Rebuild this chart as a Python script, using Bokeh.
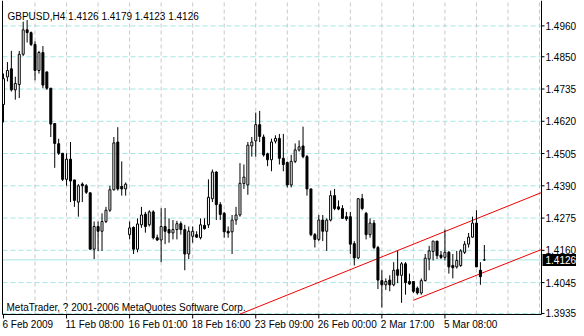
import numpy as np
from bokeh.plotting import figure
from bokeh.models import ColumnDataSource, Range1d
from bokeh.embed import file_html
from bokeh.resources import INLINE
from bokeh.core.properties import value

symbol = "GBPUSD,H4"
header_values = ["1.4126", "1.4179", "1.4123", "1.4126"]
copyright_text = "MetaTrader, ? 2001-2006 MetaQuotes Software Corp."

opens = [1.4680, 1.4778, 1.4807, 1.4732, 1.4751, 1.4859, 1.4946, 1.4936, 1.4894, 1.4801,
         1.4865, 1.4796, 1.4738, 1.4612, 1.4540, 1.4506, 1.4413, 1.4485, 1.4411, 1.4332,
         1.4396, 1.4390, 1.4365, 1.4164, 1.4245, 1.4228, 1.4263, 1.4303, 1.4376, 1.4546,
         1.4388, 1.4379, 1.4216, 1.4242, 1.4164, 1.4251, 1.4289, 1.4251, 1.4297, 1.4205,
         1.4197, 1.4245, 1.4234, 1.4222, 1.4234, 1.4255, 1.4234, 1.4147, 1.4210, 1.4216,
         1.4205, 1.4249, 1.4251, 1.4344, 1.4439, 1.4323, 1.4292, 1.4228, 1.4226, 1.4268,
         1.4286, 1.4398, 1.4393, 1.4532, 1.4550, 1.4608, 1.4564, 1.4504, 1.4483, 1.4549,
         1.4559, 1.4488, 1.4473, 1.4393, 1.4477, 1.4518, 1.4532, 1.4494, 1.4379, 1.4216,
         1.4199, 1.4268, 1.4228, 1.4268, 1.4355, 1.4315, 1.4309, 1.4280, 1.4280, 1.4184,
         1.4133, 1.4344, 1.4292, 1.4216, 1.4257, 1.4170, 1.4052, 1.4037, 1.4054, 1.4037,
         1.4091, 1.4071, 1.4112, 1.4049, 1.4049, 1.4025, 1.4008, 1.4052, 1.4129, 1.4156,
         1.4193, 1.4143, 1.4135, 1.4153, 1.4106, 1.4101, 1.4106, 1.4153, 1.4182, 1.4207,
         1.4257, 1.4089, 1.4126]
highs = [1.4790, 1.4831, 1.4871, 1.4779, 1.4871, 1.4975, 1.4981, 1.4940, 1.4905, 1.4871,
         1.4888, 1.4797, 1.4738, 1.4612, 1.4558, 1.4506, 1.4506, 1.4546, 1.4411, 1.4396,
         1.4402, 1.4396, 1.4366, 1.4263, 1.4263, 1.4292, 1.4315, 1.4390, 1.4564, 1.4599,
         1.4477, 1.4402, 1.4263, 1.4245, 1.4274, 1.4315, 1.4297, 1.4303, 1.4303, 1.4216,
         1.4310, 1.4311, 1.4274, 1.4268, 1.4265, 1.4263, 1.4251, 1.4245, 1.4245, 1.4228,
         1.4274, 1.4274, 1.4413, 1.4448, 1.4442, 1.4332, 1.4297, 1.4245, 1.4286, 1.4315,
         1.4471, 1.4466, 1.4546, 1.4564, 1.4651, 1.4657, 1.4573, 1.4508, 1.4558, 1.4570,
         1.4575, 1.4575, 1.4477, 1.4500, 1.4541, 1.4552, 1.4601, 1.4500, 1.4379, 1.4222,
         1.4286, 1.4286, 1.4274, 1.4373, 1.4379, 1.4338, 1.4321, 1.4297, 1.4297, 1.4193,
         1.4346, 1.4361, 1.4297, 1.4274, 1.4268, 1.4176, 1.4089, 1.4060, 1.4071, 1.4118,
         1.4158, 1.4118, 1.4118, 1.4077, 1.4049, 1.4031, 1.4060, 1.4147, 1.4176, 1.4193,
         1.4193, 1.4158, 1.4234, 1.4158, 1.4147, 1.4158, 1.4164, 1.4193, 1.4222, 1.4280,
         1.4303, 1.4118, 1.4179]
lows = [1.4616, 1.4762, 1.4726, 1.4697, 1.4703, 1.4853, 1.4901, 1.4888, 1.4766, 1.4790,
        1.4738, 1.4732, 1.4564, 1.4454, 1.4500, 1.4407, 1.4390, 1.4332, 1.4315, 1.4280,
        1.4332, 1.4361, 1.4164, 1.4129, 1.4157, 1.4158, 1.4257, 1.4297, 1.4373, 1.4373,
        1.4355, 1.4355, 1.4199, 1.4147, 1.4153, 1.4240, 1.4223, 1.4245, 1.4199, 1.4193,
        1.4118, 1.4182, 1.4187, 1.4199, 1.4199, 1.4216, 1.4089, 1.4129, 1.4187, 1.4205,
        1.4199, 1.4234, 1.4240, 1.4332, 1.4268, 1.4268, 1.4205, 1.4205, 1.4147, 1.4251,
        1.4280, 1.4379, 1.4358, 1.4494, 1.4494, 1.4546, 1.4494, 1.4460, 1.4442, 1.4541,
        1.4466, 1.4442, 1.4384, 1.4384, 1.4471, 1.4512, 1.4488, 1.4355, 1.4210, 1.4170,
        1.4193, 1.4193, 1.4158, 1.4263, 1.4303, 1.4303, 1.4272, 1.4265, 1.4147, 1.4106,
        1.4129, 1.4303, 1.4199, 1.4205, 1.4164, 1.4022, 1.3956, 1.4019, 1.4014, 1.4032,
        1.4043, 1.3973, 1.4002, 1.4037, 1.4008, 1.4002, 1.4002, 1.4049, 1.4089, 1.4124,
        1.4129, 1.4129, 1.4124, 1.4077, 1.4060, 1.4095, 1.4101, 1.4147, 1.4170, 1.4205,
        1.4101, 1.4037, 1.4123]
closes = [1.4772, 1.4801, 1.4732, 1.4755, 1.4859, 1.4946, 1.4936, 1.4894, 1.4801, 1.4865,
          1.4749, 1.4738, 1.4610, 1.4541, 1.4506, 1.4413, 1.4485, 1.4407, 1.4338, 1.4390,
          1.4390, 1.4367, 1.4164, 1.4245, 1.4228, 1.4263, 1.4303, 1.4376, 1.4543, 1.4379,
          1.4379, 1.4396, 1.4240, 1.4164, 1.4254, 1.4286, 1.4245, 1.4297, 1.4205, 1.4197,
          1.4245, 1.4228, 1.4222, 1.4234, 1.4255, 1.4234, 1.4147, 1.4228, 1.4228, 1.4207,
          1.4251, 1.4237, 1.4349, 1.4439, 1.4323, 1.4288, 1.4226, 1.4222, 1.4268, 1.4286,
          1.4399, 1.4421, 1.4535, 1.4546, 1.4608, 1.4566, 1.4500, 1.4483, 1.4546, 1.4559,
          1.4488, 1.4466, 1.4393, 1.4477, 1.4518, 1.4529, 1.4494, 1.4379, 1.4216, 1.4199,
          1.4268, 1.4228, 1.4268, 1.4355, 1.4309, 1.4307, 1.4274, 1.4272, 1.4182, 1.4133,
          1.4344, 1.4309, 1.4216, 1.4257, 1.4170, 1.4054, 1.4037, 1.4049, 1.4037, 1.4089,
          1.4071, 1.4112, 1.4045, 1.4040, 1.4014, 1.4008, 1.4052, 1.4132, 1.4158, 1.4193,
          1.4141, 1.4135, 1.4153, 1.4101, 1.4098, 1.4124, 1.4158, 1.4182, 1.4207, 1.4257,
          1.4101, 1.4066, 1.4126]

time_labels = ["6 Feb 2009", "11 Feb 08:00", "16 Feb 01:00", "18 Feb 16:00",
               "23 Feb 09:00", "26 Feb 00:00", "2 Mar 17:00", "5 Mar 08:00"]
time_label_bars = [0, 16, 32, 48, 64, 80, 96, 112]
price_tick_labels = ["1.4960", "1.4850", "1.4735", "1.4620", "1.4505",
                     "1.4390", "1.4275", "1.4160", "1.4045", "1.3935"]
last_price = 1.4126

# trend channel anchors (bar index, price)
upper_bars = [62, 136.5]
upper_prices = [1.3944, 1.4366]
lower_bars = [104, 136.5]
lower_prices = [1.3982, 1.4163]

# ---------------- layout (pixels) ----------------
FONT = "Liberation Sans"
FS = "10px"
W, H = 576, 328
CL, CR, CT, CB = 2, 541, 2, 314          # chart area in figure pixels
XB = (-0.25, 136.5)                       # bar range inside chart area
YP = (1.39313, 1.50434)                   # price range inside chart area
ppb = (CR - CL) / (XB[1] - XB[0])         # px per bar
ppp = (CB - CT) / (YP[1] - YP[0])         # px per price unit
x_range = Range1d(XB[0] - CL / ppb, XB[1] + (W - CR) / ppb)
y_range = Range1d(YP[0] - (H - CB) / ppp, YP[1] + CT / ppp)
def dx(px):
    return px / ppb
def dy(px):
    return px / ppp

p = figure(width=W, height=H, x_range=x_range, y_range=y_range,
           output_backend="svg", toolbar_location=None,
           x_axis_location=None, y_axis_location=None,
           min_border_left=0, min_border_right=0, min_border_top=0, min_border_bottom=0,
           outline_line_color=None, background_fill_color="white", border_fill_color="white")
p.grid.visible = False

ticks = [float(t) for t in price_tick_labels]
# horizontal grid (dashed cyan)
p.segment(x0=[XB[0]] * len(ticks), y0=ticks, x1=[XB[1]] * len(ticks), y1=ticks,
          line_color="#a4e4e4", line_width=1, line_dash="5 3")
# vertical grid (dashed gray)
vg = list(range(8, 137, 8))
p.segment(x0=vg, y0=[YP[0]] * len(vg), x1=vg, y1=[y_range.end] * len(vg),
          line_color="#c8c8c8", line_width=1, line_dash="4 3")
# current price line
p.segment(x0=[XB[0]], y0=[last_price], x1=[XB[1]], y1=[last_price], line_color="#a4e4e4", line_width=1)

# trend lines (rays), clipped to chart area
us = (upper_prices[1] - upper_prices[0]) / (upper_bars[1] - upper_bars[0])
ux0 = upper_bars[0] + (YP[0] - upper_prices[0]) / us
p.line([ux0, XB[1]], [YP[0], upper_prices[0] + (XB[1] - upper_bars[0]) * us],
       line_color="#f00000", line_width=1)
ls = (lower_prices[1] - lower_prices[0]) / (lower_bars[1] - lower_bars[0])
p.line([lower_bars[0], XB[1]], [lower_prices[0], lower_prices[0] + (XB[1] - lower_bars[0]) * ls],
       line_color="#f00000", line_width=1)

# candles
n = len(opens)
idx = np.arange(n)
o = np.array(opens); c = np.array(closes); h = np.array(highs); l = np.array(lows)
bull = c >= o
body_w = dx(2.0)
p.segment(x0=idx, y0=h, x1=idx, y1=l, line_color="black", line_width=1)
src_bull = ColumnDataSource(dict(x=idx[bull], top=c[bull], bottom=o[bull]))
src_bear = ColumnDataSource(dict(x=idx[~bull], top=o[~bull], bottom=c[~bull]))
p.vbar(x="x", top="top", bottom="bottom", width=body_w, source=src_bull,
       fill_color="white", line_color="black", line_width=1)
p.vbar(x="x", top="top", bottom="bottom", width=body_w, source=src_bear,
       fill_color="black", line_color="black", line_width=1)

# frame: left, right, bottom
p.segment(x0=[XB[0], XB[1], XB[0]], y0=[YP[0], YP[0], YP[0]],
          x1=[XB[0], XB[1], XB[1]], y1=[y_range.end, y_range.end, YP[0]],
          line_color="black", line_width=1)

# right price scale
p.segment(x0=[XB[1]] * len(ticks), y0=ticks, x1=[XB[1] + dx(3)] * len(ticks), y1=ticks,
          line_color="black", line_width=1)
p.text(x=[XB[1] + dx(4)] * len(ticks), y=ticks, text=price_tick_labels,
       text_font=value(FONT), text_font_size=FS, text_color="black",
       text_align="left", text_baseline="middle")
# current price box
p.quad(left=[XB[1] + dx(1)], right=[x_range.end], bottom=[last_price - dy(6)], top=[last_price + dy(6)],
       fill_color="black", line_color=None)
p.text(x=[XB[1] + dx(4)], y=[last_price], text=[f"{last_price:.4f}"],
       text_font=value(FONT), text_font_size=FS, text_color="white",
       text_align="left", text_baseline="middle")

# time scale
p.segment(x0=time_label_bars, y0=[YP[0]] * len(time_label_bars),
          x1=time_label_bars, y1=[YP[0] - dy(4)] * len(time_label_bars),
          line_color="black", line_width=1)
p.text(x=[b - dx(1) for b in time_label_bars], y=[YP[0] - dy(4)] * len(time_label_bars),
       text=time_labels, text_font=value(FONT), text_font_size=FS, text_color="black",
       text_align="left", text_baseline="top")

# header and copyright
p.text(x=[XB[0] + dx(5)], y=[1.4995], text=[symbol + "  " + " ".join(header_values)],
       text_font=value(FONT), text_font_size=FS, text_color="black",
       text_align="left", text_baseline="alphabetic")
p.text(x=[XB[0] + dx(4)], y=[1.3956], text=[copyright_text],
       text_font=value(FONT), text_font_size=FS, text_color="black",
       text_align="left", text_baseline="alphabetic")

open("out.html", "w").write(file_html(p, INLINE))
